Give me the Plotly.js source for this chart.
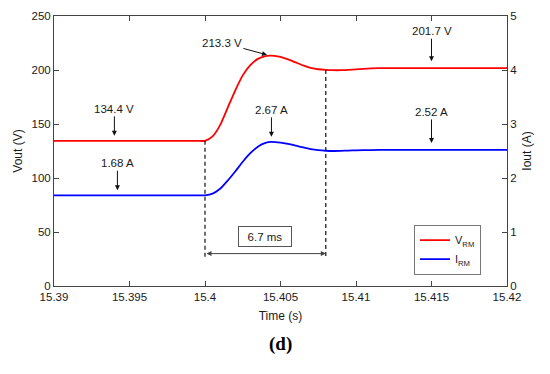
<!DOCTYPE html>
<html>
<head>
<meta charset="utf-8">
<script src="https://cdn.plot.ly/plotly-3.0.1.min.js"></script>
<style>html,body{margin:0;padding:0;background:#fff;}#chart{width:550px;height:374px;}</style>
</head>
<body>
<div id="chart"></div>
<script>
// Time axis (s)
const timeV = [15.39, 15.3995, 15.4, 15.4005, 15.401, 15.4015, 15.402, 15.4025, 15.403, 15.4035, 15.404, 15.4043, 15.4046, 15.405, 15.4055, 15.406, 15.4065, 15.407, 15.4075, 15.408, 15.4085, 15.409, 15.4095, 15.41, 15.4105, 15.411, 15.412, 15.413, 15.414, 15.42];
const vRM   = [134.4, 134.4, 134.4, 138.5, 149, 165, 181, 195, 204.5, 210.3, 212.9, 213.3, 213.1, 212.1, 209.8, 207, 204.2, 202, 200.7, 200.1, 199.8, 199.8, 200.1, 200.6, 201.1, 201.5, 201.8, 201.8, 201.7, 201.7];
const timeI = [15.39, 15.3995, 15.4, 15.4005, 15.401, 15.4015, 15.402, 15.4025, 15.403, 15.4035, 15.404, 15.4044, 15.405, 15.4055, 15.406, 15.4065, 15.407, 15.4075, 15.408, 15.4085, 15.409, 15.4095, 15.41, 15.411, 15.412, 15.42];
const iRM   = [1.68, 1.68, 1.68, 1.71, 1.80, 1.95, 2.12, 2.30, 2.46, 2.58, 2.65, 2.67, 2.655, 2.63, 2.60, 2.565, 2.535, 2.515, 2.505, 2.50, 2.503, 2.508, 2.513, 2.518, 2.52, 2.52];

const xTicks = [15.39, 15.395, 15.4, 15.405, 15.41, 15.415, 15.42];
const xTickText = ['15.39', '15.395', '15.4', '15.405', '15.41', '15.415', '15.42'];

// Annotated values
const vLabels = [{t: 15.394, v: 134.4, text: '134.4 V'}, {t: 15.415, v: 201.7, text: '201.7 V'}];
const iLabels = [{t: 15.3942, v: 1.68, text: '1.68 A'}, {t: 15.4044, v: 2.67, text: '2.67 A'}, {t: 15.415, v: 2.52, text: '2.52 A'}];
const peakV = {t: 15.4043, v: 213.3, text: '213.3 V'};

// Settling time markers
const tStart = 15.4, tEnd = 15.408;
const vAtStart = 134.4, vAtEnd = 200.1;
const markerBottom = 26, arrowLevel = 30;
const settleText = '6.7 ms';

const font = 'Arial, "Liberation Sans", sans-serif';
const ink = '#1a1a1a';

const traces = [
  {x: timeV, y: vRM, name: 'V<sub>RM</sub>', type: 'scatter', mode: 'lines', line: {color: '#ff0000', width: 1.8, shape: 'spline', smoothing: 0.6}, yaxis: 'y'},
  {x: timeI, y: iRM, name: 'I<sub>RM</sub>', type: 'scatter', mode: 'lines', line: {color: '#0000ff', width: 1.8, shape: 'spline', smoothing: 0.6}, yaxis: 'y2'}
];

const annotations = [];
const arrowCommon = {showarrow: true, arrowhead: 2, arrowsize: 1, arrowwidth: 1, arrowcolor: '#111', font: {family: font, size: 11.5, color: ink}};
vLabels.forEach(l => annotations.push(Object.assign({}, arrowCommon, {x: l.t, y: l.v, xref: 'x', yref: 'y', text: l.text, ax: 0, ay: l.t > 15.41 ? -37 : -32, standoff: l.t > 15.41 ? 7 : 5})));
iLabels.forEach(l => annotations.push(Object.assign({}, arrowCommon, {x: l.t, y: l.v, xref: 'x', yref: 'y2', text: l.text, ax: 0, ay: l.t > 15.41 ? -38 : -32, standoff: l.t > 15.41 ? 7 : 5})));
annotations.push(Object.assign({}, arrowCommon, {x: peakV.t, y: peakV.v, xref: 'x', yref: 'y', text: peakV.text, ax: -48, ay: -13, standoff: 3}));
// double-headed arrow
annotations.push({x: tEnd, y: arrowLevel, xref: 'x', yref: 'y', ax: tStart, ay: arrowLevel, axref: 'x', ayref: 'y', text: '', showarrow: true, arrowhead: 2, startarrowhead: 2, arrowside: 'end+start', arrowsize: 1, startarrowsize: 1, arrowwidth: 1, arrowcolor: '#444'});
// box label
annotations.push({x: (tStart + tEnd) / 2, y: 46, xref: 'x', yref: 'y', text: settleText, showarrow: false, font: {family: font, size: 11.5, color: ink}, bordercolor: '#555', borderwidth: 1, bgcolor: '#fff', width: 50, height: 17});
// (d)
annotations.push({x: 0.5, y: -0.215, xref: 'paper', yref: 'paper', xanchor: 'center', yanchor: 'middle', text: '<b>(d)</b>', showarrow: false, font: {family: '"Liberation Serif", "DejaVu Serif", serif', size: 19, color: '#000'}});

const shapes = [
  {type: 'line', xref: 'x', yref: 'y', x0: tStart, x1: tStart, y0: vAtStart, y1: markerBottom, line: {color: '#111', width: 1.2, dash: '4px,3px'}},
  {type: 'line', xref: 'x', yref: 'y', x0: tEnd, x1: tEnd, y0: vAtEnd, y1: markerBottom, line: {color: '#111', width: 1.2, dash: '4px,3px'}}
];

const axisCommon = {showline: true, linecolor: '#444', linewidth: 1, ticks: 'inside', ticklen: 5, tickcolor: '#444', showgrid: false, zeroline: false, tickfont: {family: font, size: 11.5, color: ink}};

const layout = {
  width: 550, height: 374,
  margin: {l: 54, r: 43, t: 16, b: 88},
  paper_bgcolor: '#fff', plot_bgcolor: '#fff',
  font: {family: font, color: ink},
  showlegend: true,
  legend: {x: 0.9426, y: 0.042, xanchor: 'right', yanchor: 'bottom', bgcolor: '#fff', bordercolor: '#777', borderwidth: 1, font: {family: font, size: 11, color: ink}, tracegroupgap: 0, itemwidth: 30, tracegroupgap: 0},
  xaxis: Object.assign({}, axisCommon, {range: [15.39, 15.42], tickvals: xTicks, ticktext: xTickText, mirror: 'ticks', title: {text: 'Time (s)', font: {family: font, size: 12, color: ink}, standoff: 9}}),
  yaxis: Object.assign({}, axisCommon, {range: [0, 250], tickvals: [0, 50, 100, 150, 200, 250], title: {text: 'Vout (V)', font: {family: font, size: 12, color: ink}, standoff: 6}}),
  yaxis2: Object.assign({}, axisCommon, {range: [0, 5], tickvals: [0, 1, 2, 3, 4, 5], overlaying: 'y', side: 'right', title: {text: 'Iout (A)', font: {family: font, size: 12, color: ink}, standoff: 6}}),
  annotations: annotations,
  shapes: shapes
};

Plotly.newPlot('chart', traces, layout, {displayModeBar: false, staticPlot: true});
</script>
</body>
</html>
